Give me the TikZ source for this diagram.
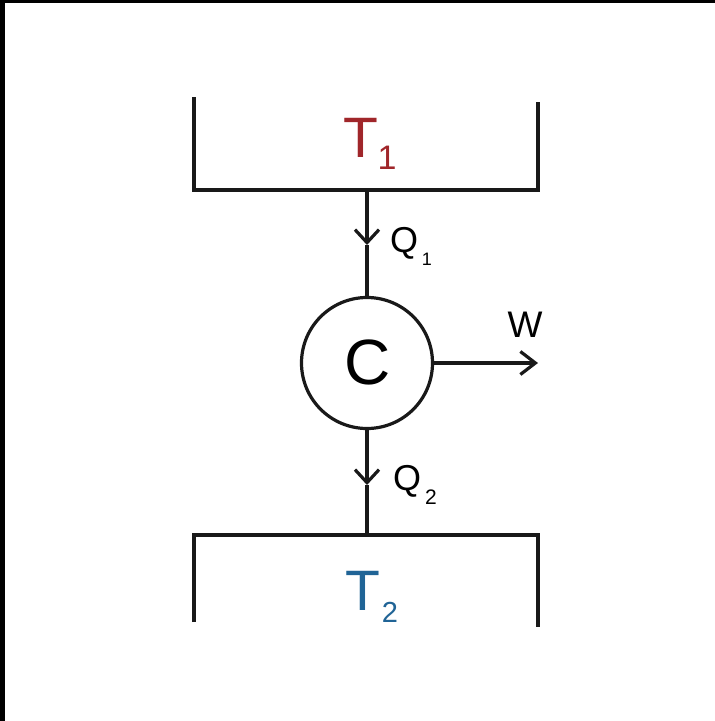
\documentclass[tikz,border=0pt]{standalone}
\usepackage{fontspec}
\setmainfont{Liberation Sans}
\usetikzlibrary{arrows.meta}
\definecolor{hotred}{RGB}{160,38,42}
\definecolor{coldblue}{RGB}{32,100,150}
\tikzset{
  wire/.style={line width=3.2pt, draw=black!90, line cap=butt, line join=miter},
  flow/.style={wire, -{Straight Barb[length=13pt,width=24pt]}},
  workflow/.style={wire, -{Straight Barb[length=15pt,width=23pt]}},
  lbl/.style={inner sep=0pt, outer sep=0pt},
}
\newcommand{\fs}[1]{\fontsize{#1}{#1}\selectfont}
\begin{document}
\begin{tikzpicture}[x=1pt,y=-1pt]
\useasboundingbox (0,0) rectangle (715,721);
\fill[white] (0,0) rectangle (715,721);
\fill[black] (0,0) rectangle (715,3);
\fill[black] (0,0) rectangle (5,721);
% top reservoir
\coordinate (r1a) at (194,97);
\coordinate (r1b) at (194,190);
\coordinate (r1c) at (538,190);
\coordinate (r1d) at (538,102);
\coordinate (t1) at (367,190);
\draw[wire] (r1a) -- (r1b) -- (r1c) -- (r1d);
% bottom reservoir
\coordinate (r2a) at (194,622);
\coordinate (r2b) at (194,535);
\coordinate (r2c) at (538,535);
\coordinate (r2d) at (538,627);
\coordinate (t2) at (367,535);
\draw[wire] (r2a) -- (r2b) -- (r2c) -- (r2d);
% engine
\node[draw=black!90, line width=3.2pt, circle, minimum size=131pt, inner sep=0pt] (C) at (367,363) {};
\node[lbl] (Clbl) at (368,362) {\fs{64}C};
% heat flows
\coordinate (a1) at (367,245);
\coordinate (a2) at (367,485);
\coordinate (w) at (538,363);
\draw[flow] (t1) -- (a1);
\draw[wire] (a1) -- (C.north);
\draw[flow] (C.south) -- (a2);
\draw[wire] (a2) -- (t2);
\draw[workflow] (C.east) -- (w);
% labels
\node[lbl, text=hotred] (T1) at (361,138) {\fs{57}T};
\node[lbl, text=hotred] (T1s) at (387,158) {\fs{34}1};
\node[lbl, text=coldblue] (T2) at (363,591) {\fs{57}T};
\node[lbl, text=coldblue] (T2s) at (390,612) {\fs{29}2};
\node[lbl] (Q1) at (404,243) {\fs{36}Q};
\node[lbl] (Q1s) at (427,259) {\fs{18}1};
\node[lbl] (Q2) at (407,481) {\fs{36}Q};
\node[lbl] (Q2s) at (431,497) {\fs{21}2};
\node[lbl] (W) at (525,325) {\fs{37}W};
\end{tikzpicture}
\end{document}
